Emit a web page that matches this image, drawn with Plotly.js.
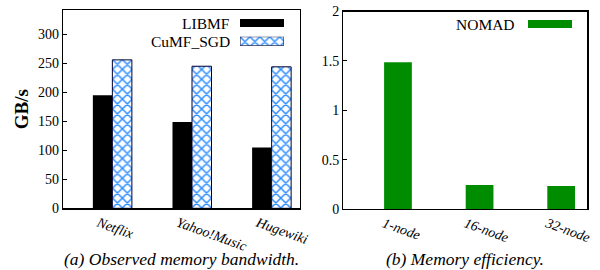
<!DOCTYPE html>
<html><head><meta charset="utf-8">
<script src="https://cdn.plot.ly/plotly-3.0.1.min.js"></script>
<style>html,body{margin:0;padding:0;background:#fff}#c{width:600px;height:270px}</style>
</head><body><div id="c"></div>
<script>
const datasets = ['Netflix', 'Yahoo!Music', 'Hugewiki'];
const libmf = [195, 149, 105];
const cumf = [256, 245, 244];
const nodes = ['1-node', '16-node', '32-node'];
const nomad = [1.485, 0.242, 0.232];
const leftTicks = [0, 50, 100, 150, 200, 250, 300];
const rightTicks = [0, 0.5, 1, 1.5, 2];
const rightTickText = ['0', '0.5', '1', '1.5', '2'];

const serif = 'Liberation Serif, Times New Roman, serif';
const W = 600, H = 270;
const px = v => v / W, py = v => 1 - v / H;

const hatch = {shape: 'x', fgcolor: '#2b8cff', bgcolor: '#ffffff', size: 7, solidity: 0.38};

const traces = [
  {type: 'bar', name: 'LIBMF', x: datasets, y: libmf, xaxis: 'x', yaxis: 'y',
   marker: {color: '#000000', line: {width: 0}}, showlegend: false, hoverinfo: 'skip'},
  {type: 'bar', name: 'CuMF_SGD', x: datasets, y: cumf, xaxis: 'x', yaxis: 'y',
   marker: {color: '#ffffff', pattern: hatch, line: {color: '#000033', width: 1}}, showlegend: false, hoverinfo: 'skip'},
  {type: 'bar', name: 'NOMAD', x: nodes, y: nomad, xaxis: 'x2', yaxis: 'y2', width: 0.34,
   marker: {color: '#008c00', line: {width: 0}}, showlegend: false, hoverinfo: 'skip'},
  // legend swatch for the hatched series
  {type: 'bar', orientation: 'h', x: [1], y: [0], xaxis: 'x3', yaxis: 'y3', width: 1,
   marker: {color: '#ffffff', pattern: hatch, line: {color: '#000033', width: 1}}, showlegend: false, hoverinfo: 'skip'}
];

const tickFont = {family: serif, size: 14, color: '#000'};
const catFont = {family: serif, size: 14, color: '#000', style: 'italic'};

const layout = {
  width: W, height: H, margin: {l: 0, r: 0, t: 0, b: 0},
  paper_bgcolor: '#fff', plot_bgcolor: '#fff',
  barmode: 'group', bargap: 0.51, bargroupgap: 0,
  showlegend: false,
  xaxis: {domain: [px(63), px(299.5)], range: [-0.62, 2.35], showline: true, mirror: true, linecolor: '#000', linewidth: 1.3,
          ticks: '', tickangle: 20, tickfont: catFont, showgrid: false, zeroline: false, fixedrange: true, ticklabelshift: -14, ticklabelstandoff: 0},
  yaxis: {domain: [py(208.3), py(10)], range: [0, 342], showline: true, mirror: true, linecolor: '#000', linewidth: 1.3,
          ticks: 'inside', ticklen: 4, tickcolor: '#000', tickvals: leftTicks, tickfont: tickFont, showgrid: false, zeroline: false,
          title: {text: '<b>GB/s</b>', font: {family: serif, size: 19, color: '#000'}, standoff: 4}},
  xaxis2: {domain: [px(343.3), px(587.3)], range: [-0.67, 2.32], showline: true, mirror: true, linecolor: '#000', linewidth: 1.3,
          ticks: '', tickangle: 20, tickfont: catFont, showgrid: false, zeroline: false, anchor: 'y2', ticklabelshift: -14, ticklabelstandoff: 0},
  yaxis2: {domain: [py(209), py(11.5)], range: [0, 2], showline: true, mirror: true, linecolor: '#000', linewidth: 1.3, anchor: 'x2',
          ticks: 'inside', ticklen: 4, tickcolor: '#000', tickvals: rightTicks, ticktext: rightTickText, tickfont: tickFont, showgrid: false, zeroline: false},
  xaxis3: {domain: [px(240), px(284)], range: [0, 1], visible: false, anchor: 'y3', fixedrange: true},
  yaxis3: {domain: [py(45.7), py(36.7)], range: [-0.5, 0.5], visible: false, anchor: 'x3', fixedrange: true},
  shapes: [
    {type: 'rect', xref: 'paper', yref: 'paper', x0: px(240), x1: px(284), y0: py(27), y1: py(19), fillcolor: '#000', line: {width: 0}},
    {type: 'rect', xref: 'paper', yref: 'paper', x0: px(528), x1: px(572), y0: py(28), y1: py(20), fillcolor: '#008c00', line: {width: 0}}
  ],
  annotations: [
    {text: 'LIBMF', xref: 'paper', yref: 'paper', x: px(232), y: py(23.5), xanchor: 'right', yanchor: 'middle', showarrow: false,
     font: {family: serif, size: 15.5, color: '#000'}},
    {text: 'CuMF_SGD', xref: 'paper', yref: 'paper', x: px(232), y: py(41), xanchor: 'right', yanchor: 'middle', showarrow: false,
     font: {family: serif, size: 15.5, color: '#000'}},
    {text: 'NOMAD', xref: 'paper', yref: 'paper', x: px(517), y: py(24.5), xanchor: 'right', yanchor: 'middle', showarrow: false,
     font: {family: serif, size: 15.5, color: '#000'}},
    {text: '(a) Observed memory bandwidth.', xref: 'paper', yref: 'paper', x: px(181), y: py(259), xanchor: 'center', yanchor: 'middle', showarrow: false,
     font: {family: serif, size: 17.5, color: '#000', style: 'italic'}},
    {text: '(b) Memory efficiency.', xref: 'paper', yref: 'paper', x: px(465), y: py(259), xanchor: 'center', yanchor: 'middle', showarrow: false,
     font: {family: serif, size: 17.5, color: '#000', style: 'italic'}}
  ]
};

Plotly.newPlot('c', traces, layout, {staticPlot: true, displayModeBar: false});
</script></body></html>
